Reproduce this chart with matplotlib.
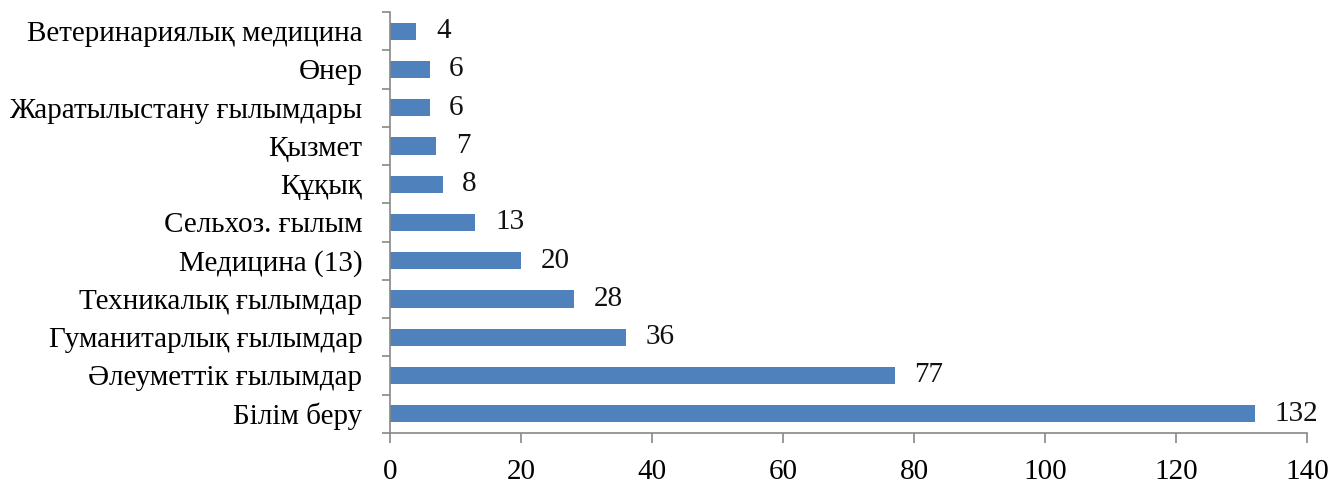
import matplotlib
matplotlib.use("Agg")
import matplotlib.pyplot as plt
import numpy as np

## Categories from bottom to top, with their counts
categories = ["Білім беру", "Әлеуметтік ғылымдар", "Гуманитарлық ғылымдар",
              "Техникалық ғылымдар", "Медицина (13)", "Сельхоз. ғылым",
              "Құқық", "Қызмет", "Жаратылыстану ғылымдары", "Өнер",
              "Ветеринариялық медицина"]
values = [132, 77, 36, 28, 20, 13, 8, 7, 6, 6, 4]
x_ticks = [0, 20, 40, 60, 80, 100, 120, 140]

plt.rcParams['font.family'] = ['Liberation Serif', 'DejaVu Serif']

fig = plt.figure(figsize=(13.41, 5.01), dpi=100)
ax = fig.add_axes([0.291, 0.136, 0.684, 0.840])

pos = np.arange(len(categories))
ax.barh(pos, values, height=0.45, color='#4F81BD')

## value labels to the right of each bar
for p, v in zip(pos, values):
    ax.text(v + 3, p, str(v), va='center', ha='left', fontsize=21, color='#111111')

ax.set_xlim(0, 140)
ax.set_ylim(-0.5, len(categories) - 0.5)
ax.set_xticks(x_ticks)
ax.set_xticklabels([str(t) for t in x_ticks], fontsize=21)
ax.set_yticks(pos)
ax.set_yticklabels(categories, fontsize=21)
ax.set_yticks(np.arange(-0.5, len(categories)), minor=True)

ax.tick_params(axis='y', which='major', length=0, pad=20)
ax.tick_params(axis='y', which='minor', length=6, color='#888888', width=1.2)
ax.tick_params(axis='x', length=7, color='#888888', width=1.2, pad=12)

for s in ['top', 'right']:
    ax.spines[s].set_visible(False)
for s in ['left', 'bottom']:
    ax.spines[s].set_color('#888888')
    ax.spines[s].set_linewidth(1.2)

fig.savefig("out.png", dpi=100)
